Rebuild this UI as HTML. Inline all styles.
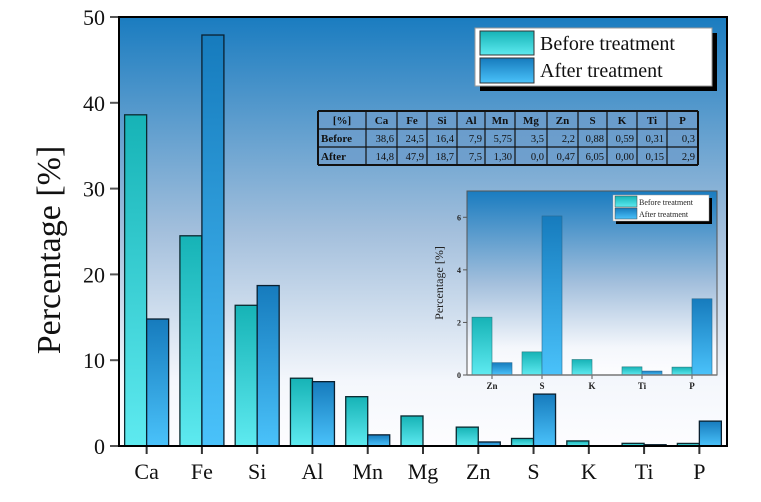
<!DOCTYPE html>
<html><head><meta charset="utf-8"><style>
html,body{margin:0;padding:0;background:#fff;}
svg{display:block;font-family:"Liberation Serif",serif;}
</style></head><body>
<svg id="chart" width="761" height="502" viewBox="0 0 761 502">
<defs>
<linearGradient id="bg" x1="0" y1="0" x2="0" y2="1">
<stop offset="0" stop-color="#1a7cc0"/><stop offset="0.5" stop-color="#a3bfdc"/><stop offset="0.85" stop-color="#f4f7fc"/><stop offset="1" stop-color="#fdfdff"/></linearGradient>
<linearGradient id="gb" x1="0" y1="0" x2="0" y2="1">
<stop offset="0" stop-color="#16b3b6"/><stop offset="1" stop-color="#5eeaf0"/></linearGradient>
<linearGradient id="ga" x1="0" y1="0" x2="0" y2="1">
<stop offset="0" stop-color="#167bbd"/><stop offset="1" stop-color="#4ac2fa"/></linearGradient>
</defs>
<rect x="119" y="17" width="608" height="429" fill="url(#bg)"/>
<g id="main"></g>
<g id="table"></g>
<g id="inset"></g>
<rect x="119" y="17" width="608" height="429" fill="none" stroke="#000" stroke-width="2"/>
<text x="60" y="250" font-size="34" text-anchor="middle" transform="rotate(-90 60 250)" fill="#111">Percentage [%]</text>
<g>
<rect x="480" y="33" width="237" height="58" fill="#000"/>
<rect x="475" y="28" width="237" height="58" fill="#fff" stroke="#999"/>
<rect x="480" y="31" width="54" height="24" fill="url(#gb)" stroke="#333"/>
<rect x="480" y="58" width="54" height="25" fill="url(#ga)" stroke="#333"/>
<text x="540" y="50" font-size="20" fill="#111">Before treatment</text>
<text x="540" y="77" font-size="20" fill="#111">After treatment</text>
</g>
</svg>
<script>
const categories=["Ca","Fe","Si","Al","Mn","Mg","Zn","S","K","Ti","P"];
const beforeVals=[38.6,24.5,16.4,7.9,5.75,3.5,2.2,0.88,0.59,0.31,0.3];
const afterVals=[14.8,47.9,18.7,7.5,1.3,0,0.47,6.05,0,0.15,2.9];
const yTicks=[0,10,20,30,40,50];
const beforeText=["38,6","24,5","16,4","7,9","5,75","3,5","2,2","0,88","0,59","0,31","0,3"];
const afterText=["14,8","47,9","18,7","7,5","1,30","0,0","0,47","6,05","0,00","0,15","2,9"];
const insetCats=["Zn","S","K","Ti","P"];
const insetBefore=[2.2,0.88,0.59,0.31,0.3];
const insetAfter=[0.47,6.05,0,0.15,2.9];
const insetTicks=[0,2,4,6];

const NS="http://www.w3.org/2000/svg";
function mk(tag,attrs,parent,txt){const e=document.createElementNS(NS,tag);for(const k in attrs)e.setAttribute(k,attrs[k]);if(txt!==undefined)e.textContent=txt;parent.appendChild(e);return e;}

const X0=119,X1=727,Y0=446,Y1=17;
const step=(X1-X0)/categories.length;
const xc=i=>X0+step*(i+0.5);
const ys=v=>Y0-(v/50)*(Y0-Y1);
const main=document.getElementById('main');
const bw=22;
categories.forEach((c,i)=>{
  const hb=Y0-ys(beforeVals[i]);
  if(hb>0){const r=mk('rect',{x:xc(i)-bw,y:ys(beforeVals[i]),width:bw,height:hb,fill:'url(#gb)',stroke:'#0a2a30','stroke-width':1.3},main);
  
  }
  const ha=Y0-ys(afterVals[i]);
  if(ha>0){const r=mk('rect',{x:xc(i),y:ys(afterVals[i]),width:bw,height:ha,fill:'url(#ga)',stroke:'#0a2030','stroke-width':1.3},main);
  
  }
  mk('line',{x1:xc(i),x2:xc(i),y1:Y0,y2:Y0+8,stroke:'#333','stroke-width':2},main);
  const t=mk('text',{x:xc(i),y:479,'font-size':22,'text-anchor':'middle',fill:'#111'},main,c);
  
  
});
yTicks.forEach(v=>{
  mk('line',{x1:X0-9,x2:X0,y1:ys(v),y2:ys(v),stroke:'#555','stroke-width':2},main);
  const t=mk('text',{x:X0-14,y:ys(v)+8,'font-size':22,'text-anchor':'end',fill:'#111'},main,String(v));
  
  
});

const tb=document.getElementById('table');
const colX=[318,366,397,427,457,485,515,547,578,607,637,667,698];
const rowY=[111,129,147,165];
mk('rect',{x:318,y:111,width:380,height:54,fill:'#6d9ccb',opacity:0.75},tb);
const rows=[["[%]"].concat(categories),["Before"].concat(beforeText),["After"].concat(afterText)];
rows.forEach((row,r)=>{
  row.forEach((cell,ci)=>{
    let x,anchor;
    if(r===0){x=(colX[ci]+colX[ci+1])/2;anchor='middle';}
    else if(ci===0){x=colX[0]+3;anchor='start';}
    else{x=colX[ci+1]-3;anchor='end';}
    mk('text',{x:x,y:rowY[r]+13,'font-size':(ci===0||r===0)?11:10.5,'font-weight':(ci===0||r===0)?'bold':'normal','text-anchor':anchor,fill:'#111'},tb,cell);
  });
});
colX.forEach((x,i)=>mk('line',{x1:x,x2:x,y1:111,y2:165,stroke:'#111','stroke-width':(i===0||i===colX.length-1)?2:1.2},tb));
rowY.forEach((y,i)=>mk('line',{x1:318,x2:698,y1:y,y2:y,stroke:'#111','stroke-width':(i===0||i===3)?2:1.2},tb));

const ins=document.getElementById('inset');
const IX0=467,IX1=717,IY0=375,IY1=191;
const istep=(IX1-IX0)/insetCats.length;
const ixc=i=>IX0+istep*(i+0.5);
const iys=v=>IY0-(v/7)*(IY0-IY1);
mk('rect',{x:IX0,y:IY1,width:IX1-IX0,height:IY0-IY1,fill:'url(#bg)',stroke:'#555','stroke-width':1},ins);
const ibw=20;
insetCats.forEach((c,i)=>{
  const hb=IY0-iys(insetBefore[i]);
  if(hb>0){const r=mk('rect',{x:ixc(i)-ibw,y:iys(insetBefore[i]),width:ibw,height:hb,fill:'url(#gb)',stroke:'#2a7a80','stroke-width':0.6},ins);
  
  }
  const ha=IY0-iys(insetAfter[i]);
  if(ha>0){const r=mk('rect',{x:ixc(i),y:iys(insetAfter[i]),width:ibw,height:ha,fill:'url(#ga)',stroke:'#2a6a90','stroke-width':0.6},ins);
  
  }
  mk('line',{x1:ixc(i),x2:ixc(i),y1:IY0,y2:IY0+4,stroke:'#555'},ins);
  mk('text',{x:ixc(i),y:IY0+14,'font-size':9,'font-weight':'bold','text-anchor':'middle',fill:'#222'},ins,c);
});
mk('line',{x1:IX0,x2:IX1,y1:IY0,y2:IY0,stroke:'#777','stroke-width':1.5},ins);
insetTicks.forEach(v=>{
  mk('line',{x1:IX0-4,x2:IX0,y1:iys(v),y2:iys(v),stroke:'#555'},ins);
  mk('text',{x:IX0-6,y:iys(v)+3,'font-size':8,'font-weight':'bold','text-anchor':'end',fill:'#222'},ins,String(v));
});
mk('text',{x:443,y:283,'font-size':12,'text-anchor':'middle',transform:'rotate(-90 443 283)',fill:'#222'},ins,'Percentage [%]');
mk('rect',{x:616,y:198,width:96,height:26,fill:'#000'},ins);
mk('rect',{x:613,y:195,width:96,height:26,fill:'#fff',stroke:'#999','stroke-width':0.5},ins);
mk('rect',{x:615,y:196,width:22,height:11,fill:'url(#gb)',stroke:'#444','stroke-width':0.5},ins);
mk('rect',{x:615,y:208,width:22,height:11,fill:'url(#ga)',stroke:'#444','stroke-width':0.5},ins);
mk('text',{x:639,y:205,'font-size':8,fill:'#222'},ins,'Before treatment');
mk('text',{x:639,y:217,'font-size':8,fill:'#222'},ins,'After treatment');
</script>
</body></html>
